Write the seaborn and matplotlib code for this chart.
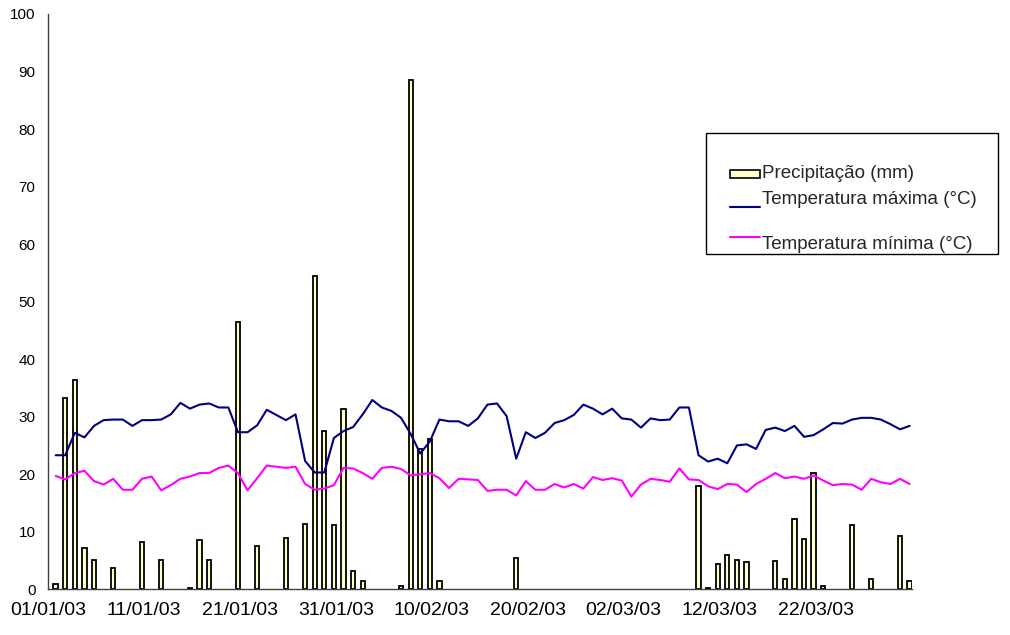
import numpy as np
import pandas as pd
import matplotlib
matplotlib.use("Agg")
import matplotlib.pyplot as plt
import seaborn as sns
from matplotlib.patches import Rectangle
from matplotlib.lines import Line2D

# 1. Daily data, 01/01/03 to 31/03/03
dates = pd.date_range("2003-01-01", "2003-03-31", freq="D")

precip = [
    0.9, 33.3, 36.4, 7.1, 5.1, 0, 3.7, 0, 0, 8.2,
    0, 5.1, 0, 0, 0.3, 8.5, 5.1, 0, 0, 46.5,
    0, 7.6, 0, 0, 9.0, 0, 11.3, 54.4, 27.5, 11.2,
    31.3, 3.2, 1.5, 0, 0, 0, 0.6, 88.6, 24.3, 26.1,
    1.5, 0, 0, 0, 0, 0, 0, 0, 5.5, 0,
    0, 0, 0, 0, 0, 0, 0, 0, 0, 0,
    0, 0, 0, 0, 0, 0, 0, 17.9, 0.3, 4.4,
    6.0, 5.1, 4.8, 0, 0, 4.9, 1.8, 12.2, 8.8, 20.2,
    0.6, 0, 0, 11.2, 0, 1.7, 0, 0, 9.2, 1.4,
]

tmax = [
    23.3, 23.3, 27.2, 26.4, 28.4, 29.4, 29.5, 29.5, 28.4, 29.4,
    29.4, 29.5, 30.4, 32.4, 31.4, 32.1, 32.3, 31.6, 31.6, 27.3,
    27.3, 28.5, 31.2, 30.3, 29.4, 30.4, 22.3, 20.3, 20.3, 26.3,
    27.5, 28.2, 30.4, 32.9, 31.6, 31.0, 29.8, 27.0, 23.6, 25.7,
    29.5, 29.2, 29.2, 28.4, 29.7, 32.1, 32.3, 30.1, 22.7, 27.3,
    26.3, 27.2, 28.9, 29.4, 30.3, 32.1, 31.4, 30.4, 31.4, 29.7,
    29.5, 28.1, 29.7, 29.4, 29.5, 31.6, 31.6, 23.3, 22.2, 22.7,
    21.9, 25.0, 25.2, 24.4, 27.7, 28.1, 27.5, 28.4, 26.5, 26.8,
    27.8, 28.9, 28.8, 29.5, 29.8, 29.8, 29.5, 28.7, 27.8, 28.4,
]

tmin = [
    19.7, 19.1, 20.2, 20.6, 18.8, 18.2, 19.2, 17.3, 17.3, 19.2,
    19.6, 17.2, 18.1, 19.2, 19.6, 20.2, 20.2, 21.1, 21.5, 20.2,
    17.2, 19.3, 21.5, 21.3, 21.1, 21.3, 18.3, 17.3, 17.5, 18.1,
    21.1, 21.0, 20.2, 19.2, 21.1, 21.3, 20.9, 19.8, 20.0, 20.2,
    19.3, 17.6, 19.2, 19.1, 19.0, 17.1, 17.3, 17.3, 16.3, 18.8,
    17.3, 17.3, 18.3, 17.7, 18.3, 17.5, 19.5, 19.0, 19.3, 18.9,
    16.1, 18.2, 19.2, 19.0, 18.7, 21.0, 19.1, 19.0, 17.9, 17.4,
    18.3, 18.2, 16.9, 18.3, 19.2, 20.2, 19.3, 19.6, 19.2, 19.8,
    18.9, 18.1, 18.3, 18.2, 17.3, 19.2, 18.6, 18.3, 19.2, 18.3,
]

tick_labels = ["01/01/03", "11/01/03", "21/01/03", "31/01/03", "10/02/03",
               "20/02/03", "02/03/03", "12/03/03", "22/03/03"]

labels = ["Precipitação (mm)", "Temperatura máxima (°C)", "Temperatura mínima (°C)"]

# 2. Style
sns.set_theme(style="white")
plt.rcParams['font.family'] = ['Liberation Sans', 'DejaVu Sans']

df = pd.DataFrame({
    "dia": np.arange(len(dates)) + 0.8,
    "precip": precip,
    "tmax": tmax,
    "tmin": tmin,
})

fig = plt.figure(figsize=(10.1, 6.35), dpi=100)
ax = fig.add_axes([0.0475, 0.072, 0.855, 0.906])

# 3. Bars (only days with rain) and temperature lines
sns.barplot(data=df[df["precip"] > 0], x="dia", y="precip", native_scale=True,
            width=0.45, color="#FFFFCC", saturation=1, edgecolor="black",
            linewidth=1.3, ax=ax)
sns.lineplot(data=df, x="dia", y="tmax", color="#000080", lw=1.5, ax=ax)
sns.lineplot(data=df, x="dia", y="tmin", color="#FF00FF", lw=1.5, ax=ax)

# 4. Axes
ax.set_xlim(0, 90)
ax.set_ylim(0, 100)
ax.set_xticks(np.arange(0, 91, 10))
ax.set_xticklabels(tick_labels + [""])
ax.set_yticks(np.arange(0, 101, 10))
ax.set_xlabel("")
ax.set_ylabel("")
for side in ["top", "right"]:
    ax.spines[side].set_visible(False)
for side in ["left", "bottom"]:
    ax.spines[side].set_color("#404040")
    ax.spines[side].set_linewidth(1)
ax.tick_params(axis="both", direction="out", length=6, width=1,
               color="#404040", labelcolor="black")
ax.tick_params(axis="x", labelsize=14, pad=3)
ax.tick_params(axis="y", labelsize=11, pad=3)
ax.grid(False)

# 5. Legend box (drawn by hand to keep the original uneven spacing)
fig.patches.append(Rectangle((0.699, 0.600), 0.289, 0.1906, transform=fig.transFigure,
                             facecolor="white", edgecolor="black", lw=1))
fig.patches.append(Rectangle((0.7228, 0.7197), 0.0297, 0.0126, transform=fig.transFigure,
                             facecolor="#FFFFCC", edgecolor="black", lw=1.2))
fig.lines.append(Line2D([0.7228, 0.7525], [0.674, 0.674], transform=fig.transFigure,
                        color="#000080", lw=1.5))
fig.lines.append(Line2D([0.7228, 0.7525], [0.6268, 0.6268], transform=fig.transFigure,
                        color="#FF00FF", lw=1.5))
for txt, yy in zip(labels, [0.726, 0.6866, 0.6157]):
    fig.text(0.7545, yy, txt, fontsize=13.5, va="center", ha="left")

fig.savefig("out.png", dpi=100)
